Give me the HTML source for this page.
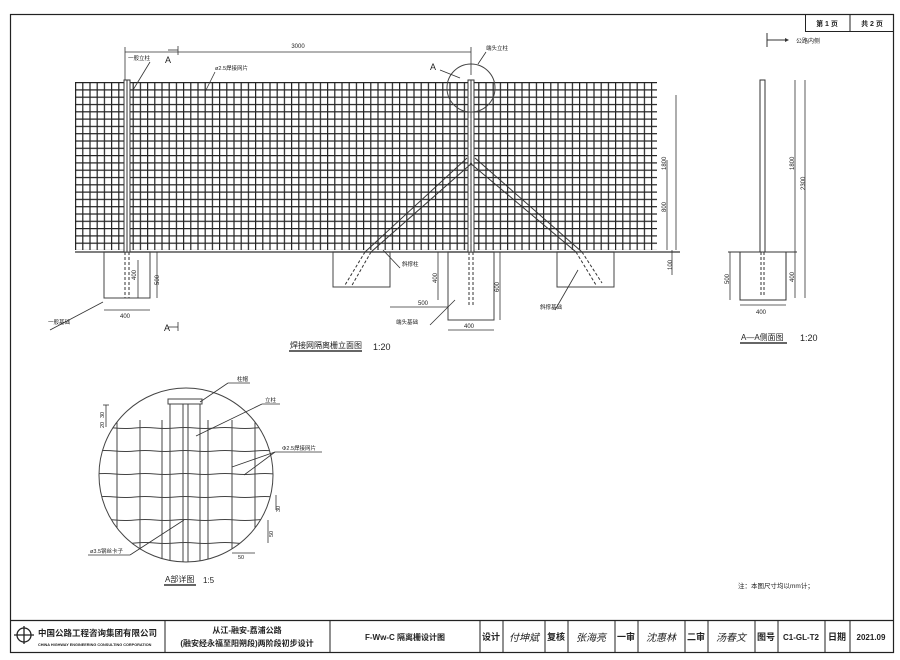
<!DOCTYPE html>
<html><head><meta charset="utf-8"><style>
body{margin:0;background:#fff}
svg{display:block}
text{font-family:"Liberation Sans","Noto Sans CJK SC",sans-serif;fill:#222}
</style></head><body>
<svg width="900" height="660" viewBox="0 0 900 660" xmlns="http://www.w3.org/2000/svg">
<defs>
<pattern id="mesh" x="75" y="82" width="7.2" height="7.3" patternUnits="userSpaceOnUse">
<path d="M0.6 0V7.3M0 0.6H7.2" stroke="#222" stroke-width="1.2" fill="none"/>
</pattern>
</defs>
<!-- frame -->
<rect x="10.5" y="14.5" width="883" height="638" fill="none" stroke="#222" stroke-width="1.2"/>
<line x1="10" y1="620.5" x2="894" y2="620.5" stroke="#222" stroke-width="1.2"/>
<rect x="805.5" y="14.5" width="88" height="17" fill="none" stroke="#222"/>
<line x1="850" y1="14" x2="850" y2="32" stroke="#222"/>
<text x="827" y="26" font-size="7" font-weight="bold" text-anchor="middle">第 1 页</text>
<text x="872" y="26" font-size="7" font-weight="bold" text-anchor="middle">共 2 页</text>

<!-- mesh -->
<rect x="75" y="82" width="582" height="168" fill="url(#mesh)"/>
<line x1="75" y1="252" x2="680" y2="252" stroke="#555" stroke-width="1.5"/>
<!-- posts -->
<rect x="124" y="80" width="6" height="172" fill="#fff" stroke="#333"/>
<line x1="127" y1="80" x2="127" y2="252" stroke="#333"/>
<rect x="468" y="80" width="6" height="172" fill="#fff" stroke="#333"/>
<line x1="471" y1="80" x2="471" y2="252" stroke="#333"/>
<g stroke="#333" stroke-dasharray="3,2">
<line x1="125" y1="252" x2="125" y2="298"/><line x1="129" y1="252" x2="129" y2="298"/>
<line x1="469" y1="252" x2="469" y2="305"/><line x1="473" y1="252" x2="473" y2="305"/>
<line x1="365" y1="252" x2="345" y2="285"/><line x1="371" y1="252" x2="351" y2="287"/>
<line x1="576" y1="252" x2="596" y2="285"/><line x1="582" y1="252" x2="602" y2="283"/>
</g>
<!-- braces -->
<g stroke="#333" fill="none">
<line x1="467" y1="158" x2="365" y2="252"/><line x1="472" y1="163" x2="371" y2="252"/>
<line x1="475" y1="158" x2="582" y2="252"/><line x1="470" y1="163" x2="576" y2="252"/>
</g>
<circle cx="471" cy="88" r="24" fill="none" stroke="#444"/>
<!-- foundations -->
<g fill="none" stroke="#444">
<rect x="104" y="252" width="46" height="46"/>
<rect x="333" y="252" width="57" height="35"/>
<rect x="448" y="252" width="46" height="68"/>
<rect x="557" y="252" width="57" height="35"/>
</g>
<!-- dims -->
<g stroke="#333" stroke-width="0.8" fill="none">
<line x1="125" y1="52" x2="471" y2="52"/><line x1="125" y1="47" x2="125" y2="80"/><line x1="471" y1="47" x2="471" y2="75"/>
<line x1="667" y1="160" x2="667" y2="250"/><line x1="672" y1="250" x2="672" y2="275"/>
<line x1="676" y1="95" x2="676" y2="250"/>
<line x1="138" y1="260" x2="138" y2="298"/><line x1="157" y1="252" x2="157" y2="298"/>
<line x1="104" y1="310" x2="150" y2="310"/>
<line x1="438" y1="252" x2="438" y2="300"/><line x1="500" y1="252" x2="500" y2="320"/>
<line x1="390" y1="307" x2="448" y2="307"/><line x1="448" y1="330" x2="494" y2="330"/>
<line x1="103" y1="302" x2="50" y2="330"/><line x1="133" y1="90" x2="150" y2="62"/>
<line x1="205" y1="92" x2="215" y2="72"/><line x1="440" y1="70" x2="460" y2="78"/>
<line x1="478" y1="64" x2="486" y2="52"/><line x1="383" y1="250" x2="400" y2="268"/>
<line x1="455" y1="300" x2="430" y2="325"/><line x1="578" y1="270" x2="555" y2="310"/>
<line x1="178" y1="46" x2="178" y2="55"/><line x1="168" y1="50" x2="178" y2="50"/>
<line x1="178" y1="322" x2="178" y2="331"/><line x1="168" y1="327" x2="178" y2="327"/>
</g>
<g font-size="6">
<text x="298" y="48" text-anchor="middle">3000</text>
<text x="128" y="60" font-size="5.5">一般立柱</text>
<text x="165" y="63" font-size="9">A</text>
<text x="215" y="70" font-size="5.5">ø2.5焊接网片</text>
<text x="486" y="50" font-size="5.5">端头立柱</text>
<text x="430" y="70" font-size="9">A</text>
<text x="402" y="266" font-size="5.5">斜撑柱</text>
<text x="418" y="305">500</text>
<text x="396" y="324" font-size="5.5">端头基础</text>
<text x="464" y="328">400</text>
<text x="540" y="309" font-size="5.5">斜撑基础</text>
<text x="48" y="324" font-size="5.5">一般基础</text>
<text x="120" y="318">400</text>
<text x="164" y="331" font-size="9">A</text>
<text transform="translate(136,280) rotate(-90)">400</text>
<text transform="translate(159,285) rotate(-90)">500</text>
<text transform="translate(437,283) rotate(-90)">400</text>
<text transform="translate(499,292) rotate(-90)">600</text>
<text transform="translate(666,170) rotate(-90)">1800</text>
<text transform="translate(666,212) rotate(-90)">800</text>
<text transform="translate(672,270) rotate(-90)">100</text>
</g>
<text x="290" y="348" font-size="8">焊接网隔离栅立面图</text>
<line x1="289" y1="351" x2="362" y2="351" stroke="#333" stroke-width="1.5"/>
<text x="373" y="350" font-size="9">1:20</text>

<!-- A-A section -->
<g stroke="#333" fill="none">
<line x1="767" y1="33" x2="767" y2="47"/><line x1="767" y1="40" x2="785" y2="40"/>
<rect x="760" y="80" width="5" height="172"/>
<line x1="728" y1="252" x2="797" y2="252"/>
<rect x="740" y="252" width="46" height="48"/>
<line x1="761" y1="252" x2="761" y2="297" stroke-dasharray="3,2"/><line x1="764" y1="252" x2="764" y2="297" stroke-dasharray="3,2"/>
<line x1="795" y1="80" x2="795" y2="298" stroke-width="0.8"/><line x1="805" y1="80" x2="805" y2="298" stroke-width="0.8"/>
<line x1="730" y1="252" x2="730" y2="300" stroke-width="0.8"/>
<line x1="740" y1="305" x2="786" y2="305" stroke-width="0.8"/>
</g>
<path d="M785 38 L789 40 L785 42Z" fill="#333"/>
<g font-size="6">
<text x="796" y="43" font-size="6">公路内侧</text>
<text transform="translate(794,170) rotate(-90)">1800</text>
<text transform="translate(805,190) rotate(-90)">2300</text>
<text transform="translate(794,282) rotate(-90)">400</text>
<text transform="translate(729,284) rotate(-90)">500</text>
<text x="756" y="314">400</text>
</g>
<text x="741" y="340" font-size="8">A—A侧面图</text>
<line x1="740" y1="343" x2="787" y2="343" stroke="#333" stroke-width="1.5"/>
<text x="800" y="341" font-size="9">1:20</text>

<!-- detail A -->
<clipPath id="cc"><circle cx="186" cy="475" r="87"/></clipPath>
<g clip-path="url(#cc)" stroke="#444" fill="none">
<g>
<line x1="117" y1="420" x2="117" y2="570"/><line x1="140" y1="420" x2="140" y2="570"/><line x1="162" y1="420" x2="162" y2="570"/>
<line x1="208" y1="420" x2="208" y2="570"/><line x1="232" y1="420" x2="232" y2="570"/><line x1="255" y1="420" x2="255" y2="570"/>
</g>
<path d="M95 428 q10 -1 20 0 t20 0 t20 0 t20 0 t20 0 t20 0 t20 0 t20 0 t20 0 M95 451 q10 -1 20 0 t20 0 t20 0 t20 0 t20 0 t20 0 t20 0 t20 0 t20 0 M95 474 q10 -1 20 0 t20 0 t20 0 t20 0 t20 0 t20 0 t20 0 t20 0 t20 0 M95 497 q10 -1 20 0 t20 0 t20 0 t20 0 t20 0 t20 0 t20 0 t20 0 t20 0 M95 520 q10 -1 20 0 t20 0 t20 0 t20 0 t20 0 t20 0 t20 0 t20 0 t20 0 M95 543 q10 -1 20 0 t20 0 t20 0 t20 0 t20 0 t20 0 t20 0 t20 0 t20 0"/>
<rect x="170" y="402" width="30" height="170"/>
<line x1="183" y1="402" x2="183" y2="572"/><line x1="188" y1="402" x2="188" y2="572"/>
<rect x="168" y="399" width="34" height="5" fill="#fff"/>
</g>
<circle cx="186" cy="475" r="87" fill="none" stroke="#444"/>
<g stroke="#333" stroke-width="0.8" fill="none">
<line x1="200" y1="402" x2="228" y2="383"/><line x1="228" y1="383" x2="250" y2="383"/>
<line x1="196" y1="436" x2="262" y2="404"/><line x1="262" y1="404" x2="280" y2="404"/>
<line x1="232" y1="467" x2="275" y2="452"/><line x1="244" y1="475" x2="275" y2="452"/><line x1="275" y1="452" x2="322" y2="452"/>
<line x1="184" y1="520" x2="130" y2="555"/><line x1="88" y1="555" x2="130" y2="555"/>
<line x1="106" y1="405" x2="106" y2="427"/><line x1="103" y1="405" x2="109" y2="405"/>
<line x1="276" y1="495" x2="276" y2="510"/>
<line x1="268" y1="520" x2="268" y2="543"/><line x1="232" y1="553" x2="255" y2="553"/>
</g>
<g font-size="5.5">
<text x="237" y="381">柱帽</text>
<text x="265" y="402">立柱</text>
<text x="282" y="450">Φ2.5焊接网片</text>
<text x="90" y="553">ø3.5钢丝卡子</text>
<text transform="translate(104,418) rotate(-90)">30</text>
<text transform="translate(104,428) rotate(-90)">20</text>
<text transform="translate(280,512) rotate(-90)">30</text>
<text transform="translate(273,537) rotate(-90)">50</text>
<text x="238" y="559">50</text>
</g>
<text x="165" y="582" font-size="8">A部详图</text>
<line x1="164" y1="585" x2="196" y2="585" stroke="#333" stroke-width="1.5"/>
<text x="203" y="583" font-size="8">1:5</text>
<text x="738" y="588" font-size="6.5">注：本图尺寸均以mm计；</text>

<!-- title block -->
<g stroke="#222" stroke-width="1">
<line x1="165" y1="620" x2="165" y2="652"/><line x1="330" y1="620" x2="330" y2="652"/><line x1="480" y1="620" x2="480" y2="652"/>
<line x1="503" y1="620" x2="503" y2="652"/><line x1="545" y1="620" x2="545" y2="652"/><line x1="568" y1="620" x2="568" y2="652"/>
<line x1="615" y1="620" x2="615" y2="652"/><line x1="638" y1="620" x2="638" y2="652"/><line x1="685" y1="620" x2="685" y2="652"/>
<line x1="708" y1="620" x2="708" y2="652"/><line x1="755" y1="620" x2="755" y2="652"/><line x1="778" y1="620" x2="778" y2="652"/>
<line x1="825" y1="620" x2="825" y2="652"/><line x1="850" y1="620" x2="850" y2="652"/>
</g>
<g fill="none" stroke="#222" stroke-width="1.3">
<circle cx="24" cy="635" r="7"/><line x1="14" y1="635" x2="34" y2="635"/><line x1="24" y1="626" x2="24" y2="644"/>
</g>
<text x="38" y="636" font-size="8.5" font-weight="bold">中国公路工程咨询集团有限公司</text>
<text x="38" y="646" font-size="3.8" font-weight="bold">CHINA HIGHWAY ENGINEERING CONSULTING CORPORATION</text>
<text x="247" y="633" font-size="8" font-weight="bold" text-anchor="middle">从江-融安-荔浦公路</text>
<text x="247" y="646" font-size="8" font-weight="bold" text-anchor="middle">(融安经永福至阳朔段)两阶段初步设计</text>
<text x="405" y="640" font-size="8" font-weight="bold" text-anchor="middle">F-Ww-C 隔离栅设计图</text>
<g font-size="9" font-weight="bold" text-anchor="middle">
<text x="491" y="640">设计</text><text x="556" y="640">复核</text><text x="626" y="640">一审</text><text x="696" y="640">二审</text>
<text x="766" y="640">图号</text><text x="801" y="640" font-size="8">C1-GL-T2</text><text x="837" y="640">日期</text><text x="871" y="640" font-size="8">2021.09</text>
</g>
<g font-size="10" font-style="italic" text-anchor="middle" font-family="Liberation Serif,'Noto Serif CJK SC',serif">
<text x="524" y="641">付坤斌</text><text x="591" y="641">张海亮</text><text x="661" y="641">沈惠林</text><text x="731" y="641" fill="#999">汤春文</text>
</g>
</svg>
</body></html>
